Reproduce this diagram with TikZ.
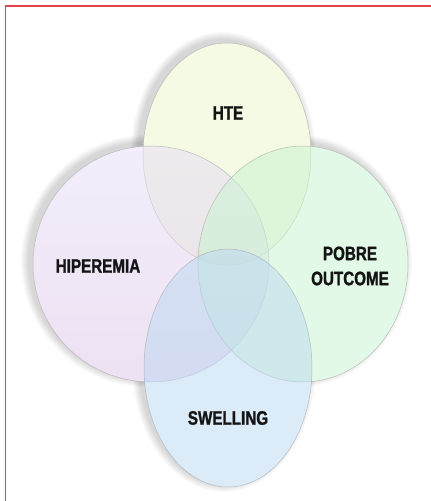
\documentclass[tikz,border=0pt]{standalone}
\usepackage{fontspec}
\setmainfont{Liberation Sans}[FakeStretch=0.78, BoldFeatures={FakeBold=1.2}]
\usetikzlibrary{shapes.geometric}
\definecolor{borderred}{RGB}{232,64,80}
\definecolor{htec}{RGB}{234,246,200}
\definecolor{hiptop}{RGB}{232,222,248}
\definecolor{hipbot}{RGB}{220,196,232}
\definecolor{pobc}{RGB}{200,244,208}
\definecolor{swec}{RGB}{186,216,242}
\tikzset{
  venn/.style={ellipse, inner sep=0pt, draw=black!40, line width=0.5pt,
    fill opacity=0.5, draw opacity=0.6},
  lbl/.style={font=\fontsize{19.5}{25}\selectfont\bfseries, text=black!92,
    align=center, inner sep=0pt}
}
\begin{document}
\begin{tikzpicture}[x=1pt,y=-1pt]
\useasboundingbox (0,0) rectangle (431,501);
\fill[white] (0,0) rectangle (431,501);
\draw[borderred, line width=1.5pt] (5.5,501) -- (5.5,6) -- (431,6);
% soft shadows
\foreach \cx/\cy/\rx/\ry in {227/154/84/111, 151/264/118/118, 303/264/105/118, 228/368/84/119}{
  \foreach \k in {1,...,8}{
    \fill[black, opacity=0.02] (\cx-4,\cy-3) ellipse [x radius={(\rx+\k)*1pt}, y radius={(\ry+\k)*1pt}];
  }
}
% white bases
\foreach \cx/\cy/\rx/\ry in {227/154/84/111, 151/264/118/118, 303/264/105/118, 228/368/84/119}{
  \fill[white] (\cx,\cy) ellipse [x radius={\rx*1pt}, y radius={\ry*1pt}];
}
% Venn shapes
\node[venn, fill=htec, minimum width=168pt, minimum height=222pt] (hte) at (227,154) {};
\node[venn, top color=hiptop, bottom color=hipbot, minimum width=236pt, minimum height=236pt] (hip) at (151,264) {};
\node[venn, fill=pobc, minimum width=210pt, minimum height=236pt] (pob) at (303,264) {};
\node[venn, fill=swec, minimum width=168pt, minimum height=238pt] (swe) at (228,368) {};
% labels
\node[lbl] (thte) at (228,113) {HTE};
\node[lbl] (thip) at (98,266) {HIPEREMIA};
\node[lbl] (tpob) at (350,266) {POBRE\\OUTCOME};
\node[lbl] (tswe) at (228,418) {SWELLING};
\end{tikzpicture}
\end{document}
